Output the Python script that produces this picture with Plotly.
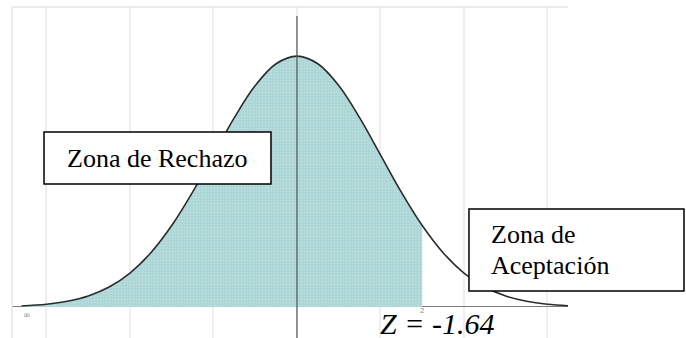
import plotly.graph_objects as go

# points (z, height)
z_vals = [-3.3, -3.0, -2.75, -2.5, -2.25, -2.0, -1.75, -1.5, -1.25, -1.0, -0.75, -0.5, -0.25,
          0.0, 0.25, 0.5, 0.75, 1.0, 1.25, 1.5, 1.75, 2.0, 2.25, 2.5, 2.75, 3.0, 3.25]
dens = [0.0017, 0.0044, 0.0091, 0.0175, 0.0317, 0.0540, 0.0863, 0.1295, 0.1826, 0.2420,
        0.3011, 0.3521, 0.3867, 0.3989, 0.3867, 0.3521, 0.3011, 0.2420, 0.1826, 0.1295,
        0.0863, 0.0540, 0.0317, 0.0175, 0.0091, 0.0044, 0.0020]
z_cut = 1.5  # where the shading stops

lbl_left = 'Zona de Rechazo'
lbl_right = ['Zona de', 'Aceptación']
lbl_z = 'Z = -1.64'

shade_x = [z for z in z_vals if z <= z_cut]
shade_y = [d for z, d in zip(z_vals, dens) if z <= z_cut]

fig = go.Figure()
fig.add_trace(go.Scatter(
    x=shade_x, y=shade_y, mode='lines', fill='tozeroy',
    line=dict(width=0, shape='spline'),
    fillcolor='#add7d7',
    fillpattern=dict(shape='.', bgcolor='#a9d4d4', fgcolor='#d4ecec', size=3, solidity=0.35),
    hoverinfo='skip'))
fig.add_trace(go.Scatter(
    x=z_vals, y=dens, mode='lines',
    line=dict(color='#2b2b2b', width=1.6, shape='spline'),
    hoverinfo='skip'))

serif = 'Liberation Serif, Times New Roman, serif'

fig.update_layout(
    width=686, height=338,
    margin=dict(l=12, r=118, t=7, b=0),
    paper_bgcolor='white', plot_bgcolor='white',
    showlegend=False,
    xaxis=dict(range=[-3.413, 3.246], showgrid=True, dtick=1, tick0=0,
               gridcolor='#efefef', gridwidth=1.5, showticklabels=False,
               zeroline=False, ticks=''),
    yaxis=dict(range=[-0.0493, 0.477], showgrid=False, showticklabels=False,
               zeroline=True, zerolinecolor='#7a7a7a', zerolinewidth=1.3, ticks=''),
    shapes=[
        # faint frame on top / left
        dict(type='line', xref='paper', yref='paper', x0=0, x1=1, y0=1, y1=1,
             line=dict(color='#e4e4e4', width=1.5)),
        dict(type='line', xref='paper', yref='paper', x0=0, x1=0, y0=0, y1=1,
             line=dict(color='#e4e4e4', width=1.5)),
        # vertical axis
        dict(type='line', xref='x', yref='paper', x0=0, x1=0, y0=0, y1=0.973,
             line=dict(color='#555555', width=1.2)),
        # text boxes
        dict(type='rect', xref='paper', yref='paper', x0=0.0576, x1=0.4658, y0=0.4653, y1=0.6224,
             line=dict(color='black', width=1.5), fillcolor='white', layer='above'),
        dict(type='rect', xref='paper', yref='paper', x0=0.8219, x1=1.2086, y0=0.142, y1=0.3897,
             line=dict(color='black', width=1.5), fillcolor='white', layer='above'),
    ],
    annotations=[
        dict(text=lbl_left, xref='paper', yref='paper', x=0.0953, y=0.5408,
             xanchor='left', yanchor='middle', showarrow=False,
             font=dict(family=serif, size=26, color='black')),
        dict(text=lbl_right[0], xref='paper', yref='paper', x=0.858, y=0.3112,
             xanchor='left', yanchor='middle', showarrow=False,
             font=dict(family=serif, size=26, color='black')),
        dict(text=lbl_right[1], xref='paper', yref='paper', x=0.858, y=0.2205,
             xanchor='left', yanchor='middle', showarrow=False,
             font=dict(family=serif, size=26, color='black')),
        dict(text=lbl_z, xref='paper', yref='paper', x=0.6583, y=0.0423,
             xanchor='left', yanchor='middle', showarrow=False,
             font=dict(family=serif, size=30, color='black', style='italic')),
        dict(text='2', xref='x', yref='paper', x=z_cut, y=0.0816,
             xanchor='center', yanchor='middle', showarrow=False,
             font=dict(family='DejaVu Sans', size=7, color='#888888')),
        dict(text='∞', xref='paper', yref='paper', x=0.027, y=0.0695,
             xanchor='center', yanchor='middle', showarrow=False,
             font=dict(family='DejaVu Sans', size=9, color='#888888')),
    ],
)

# drop the browser's default body margin so the figure sits at the corner
fig.write_html('out.html', config={'displayModeBar': False},
               post_script="document.body.style.margin='0';")
